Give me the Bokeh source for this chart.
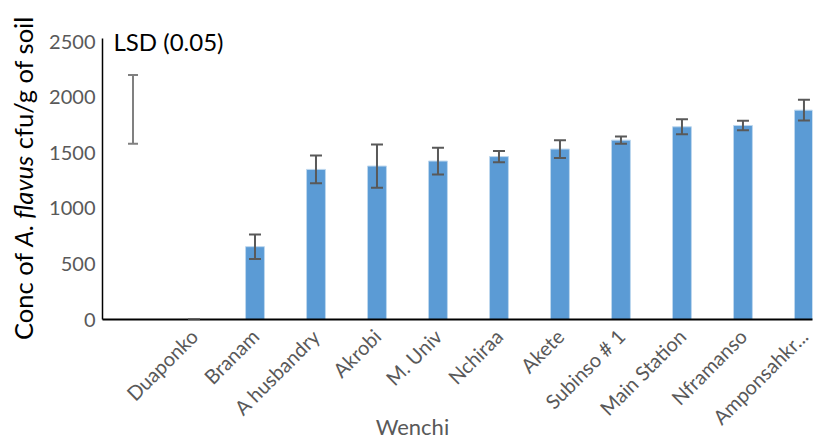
import math
from bokeh.plotting import figure
from bokeh.layouts import row
from bokeh.models import ColumnDataSource, Whisker, Label, Range1d, FixedTicker, TeeHead, Div
from bokeh.embed import file_html
from bokeh.resources import INLINE

# ---- data ----
sites = ["Duaponko", "Branam", "A husbandry", "Akrobi", "M. Univ", "Nchiraa",
         "Akete", "Subinso # 1", "Main Station", "Nframanso", "Amponsahkr..."]
conc = [0, 655, 1350, 1380, 1425, 1465, 1533, 1613, 1733, 1745, 1883]
err = [0, 110, 125, 195, 120, 50, 80, 32, 67, 42, 93]
lsd_low = [1580]
lsd_high = [2200]
y_ticks = [0, 500, 1000, 1500, 2000, 2500]
x_title = "Wenchi"
y_title_parts = ["Conc of ", "A. flavus", " cfu/g of soil"]

FONT = "Lato"
GREY = "#595959"

xs = [i + 1 for i in range(len(sites))]
src = ColumnDataSource(dict(
    x=xs, top=conc,
    upper=[c + e for c, e in zip(conc, err)],
    lower=[c - e for c, e in zip(conc, err)],
))
lsd_src = ColumnDataSource(dict(x=[0], upper=lsd_high, lower=lsd_low))

# ---- main chart ----
p = figure(width=775, height=443, output_backend="svg", toolbar_location=None,
           x_range=Range1d(-0.5, 11.14), y_range=Range1d(0, 2851),
           min_border_left=57, min_border_right=8, min_border_top=2,
           min_border_bottom=124)
p.outline_line_color = None
p.xgrid.visible = False
p.ygrid.visible = False

p.vbar(x="x", top="top", width=0.31, source=src,
       fill_color="#5b9bd5", line_color="#bdd7ee", line_width=1)

w = Whisker(source=src, base="x", upper="upper", lower="lower",
            line_color=GREY, line_width=2, level="overlay",
            upper_head=TeeHead(size=12, line_color=GREY, line_width=2),
            lower_head=TeeHead(size=12, line_color=GREY, line_width=2))
p.add_layout(w)
wl = Whisker(source=lsd_src, base="x", upper="upper", lower="lower",
             line_color="#808080", line_width=2, level="overlay",
             upper_head=TeeHead(size=10, line_color="#808080", line_width=2),
             lower_head=TeeHead(size=10, line_color="#808080", line_width=2))
p.add_layout(wl)

# y axis
ya = p.yaxis[0]
ya.ticker = FixedTicker(ticks=y_ticks)
ya.bounds = (0, 2527)
ya.axis_line_color = "black"
ya.axis_line_width = 1.5
ya.major_tick_line_color = None
ya.minor_tick_line_color = None
ya.major_tick_out = 0
ya.major_tick_in = 0
ya.major_label_text_color = GREY
ya.major_label_text_font = FONT
ya.major_label_text_font_size = "20px"
ya.major_label_standoff = 7

# x axis
xa = p.xaxis[0]
xa.ticker = FixedTicker(ticks=xs)
xa.major_label_overrides = {x: s for x, s in zip(xs, sites)}
xa.major_label_orientation = math.pi / 4
xa.axis_line_color = "black"
xa.axis_line_width = 2
xa.major_tick_line_color = None
xa.minor_tick_line_color = None
xa.major_tick_out = 0
xa.major_tick_in = 0
xa.major_label_text_color = GREY
xa.major_label_text_font = FONT
xa.major_label_text_font_size = "20px"
xa.major_label_standoff = 13
xa.axis_label = x_title + "\u00a0" * 16
xa.axis_label_text_font = FONT
xa.axis_label_text_font_size = "22px"
xa.axis_label_text_font_style = "normal"
xa.axis_label_text_color = GREY
xa.axis_label_standoff = -27

p.add_layout(Label(x=11, y=278, x_units="screen", y_units="screen",
                   text="LSD (0.05)", text_font=FONT, text_font_size="24px",
                   text_color="black", text_baseline="middle"))

# ---- y-axis title (rotated, with italic species name) ----
title_html = (
    '<div style="position:relative;width:45px;height:443px;">'
    '<div style="position:absolute;left:10px;top:340px;white-space:nowrap;'
    'transform-origin:0 0;transform:rotate(-90deg);'
    'font-family:Lato;font-size:25.5px;line-height:26px;color:#000;">'
    + y_title_parts[0].replace(" ", "&nbsp;")
    + "<i>" + y_title_parts[1] + "</i>"
    + y_title_parts[2].replace(" ", "&nbsp;")
    + "</div></div>"
)
t = Div(text=title_html, width=45, height=443, margin=0)

layout = row(t, p, spacing=0)
open("out.html", "w").write(file_html(layout, INLINE))
